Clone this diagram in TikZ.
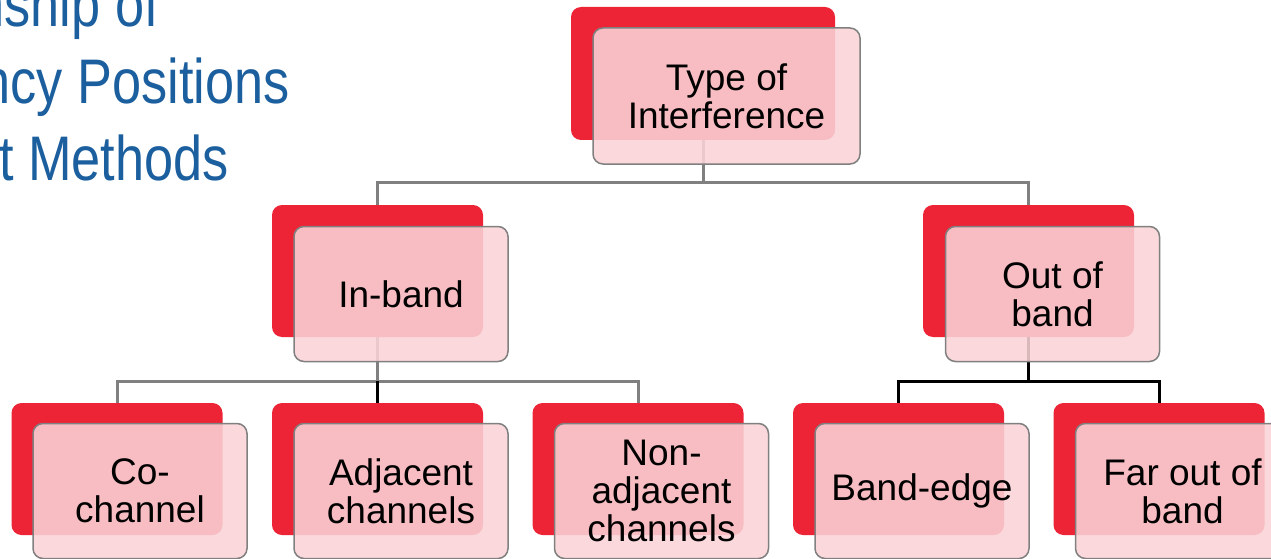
\documentclass[tikz,border=0pt]{standalone}
\usepackage{fontspec}
\setmainfont{Liberation Sans}
\definecolor{boxred}{RGB}{237,35,54}
\definecolor{boxpink}{RGB}{249,211,214}
\definecolor{linegray}{RGB}{128,128,128}
\definecolor{titleblue}{RGB}{28,95,158}
\tikzset{
  back/.style={draw=none, fill=boxred, rounded corners=10pt, inner sep=0pt,
    minimum width=211pt, minimum height=132pt},
  front/.style={draw=linegray, line width=1.5pt, fill=boxpink, fill opacity=0.88,
    text opacity=1, rounded corners=10pt, inner sep=0pt, align=center,
    minimum width=214pt, minimum height=135pt,
    font=\fontsize{37}{38}\selectfont},
  conn/.style={draw=linegray, line width=3pt},
  connb/.style={draw=black, line width=3pt},
  titletext/.style={text=titleblue, inner sep=0pt, anchor=base east,
    font=\fontsize{63}{76}\selectfont},
}
\begin{document}
\begin{tikzpicture}[x=1pt,y=-1pt]
\useasboundingbox (0,0) rectangle (1271,559);
\clip (0,0) rectangle (1271,559);
% title fragments
\node[titletext] (ti1) at (159,27) {\scalebox{0.83}[1]{nship of}};
\node[titletext] (ti2) at (290,104) {\scalebox{0.83}[1]{ncy Positions}};
\node[titletext] (ti3) at (229,180) {\scalebox{0.83}[1]{t Methods}};
% back boxes
\node[back, minimum width=264pt, minimum height=133pt] (rt) at (703,73.5) {};
\node[back] (rib) at (377.5,271) {};
\node[back] (rob) at (1028.5,271) {};
\node[back] (rco) at (117,469) {};
\node[back] (rad) at (377.5,469) {};
\node[back] (rna) at (638,469) {};
\node[back] (rbe) at (898.5,469) {};
\node[back] (rfo) at (1159,469) {};
% connectors
\coordinate (j1) at (703,182);
\coordinate (j2) at (377.5,381);
\coordinate (j3) at (1028.5,381);
\draw[conn] (rt.south) -- (j1);
\draw[conn] (j1) -| (rib.north);
\draw[conn] (j1) -| (rob.north);
\draw[conn] (rib.south) -- (j2);
\draw[conn] (j2) -| (rco.north);
\draw[conn] (j2) -| (rna.north);
\draw[connb] (j2) -- (rad.north);
\draw[connb] (rob.south) -- (j3);
\draw[connb] (j3) -| (rbe.north);
\draw[connb] (j3) -| (rfo.north);
% front boxes
\node[front, minimum width=267pt, minimum height=136pt] (pt) at (726.5,96) {Type of\\Interference};
\node[front] (pib) at (401,294) {In-band};
\node[front] (pob) at (1052.5,294) {Out of\\band};
\node[front] (pco) at (140,491) {Co-\\channel};
\node[front] (pad) at (401,491) {Adjacent\\channels};
\node[front] (pna) at (661.5,491) {Non-\\adjacent\\channels};
\node[front] (pbe) at (922,491) {Band-edge};
\node[front] (pfo) at (1182.5,491) {Far out of\\band};
\end{tikzpicture}
\end{document}
